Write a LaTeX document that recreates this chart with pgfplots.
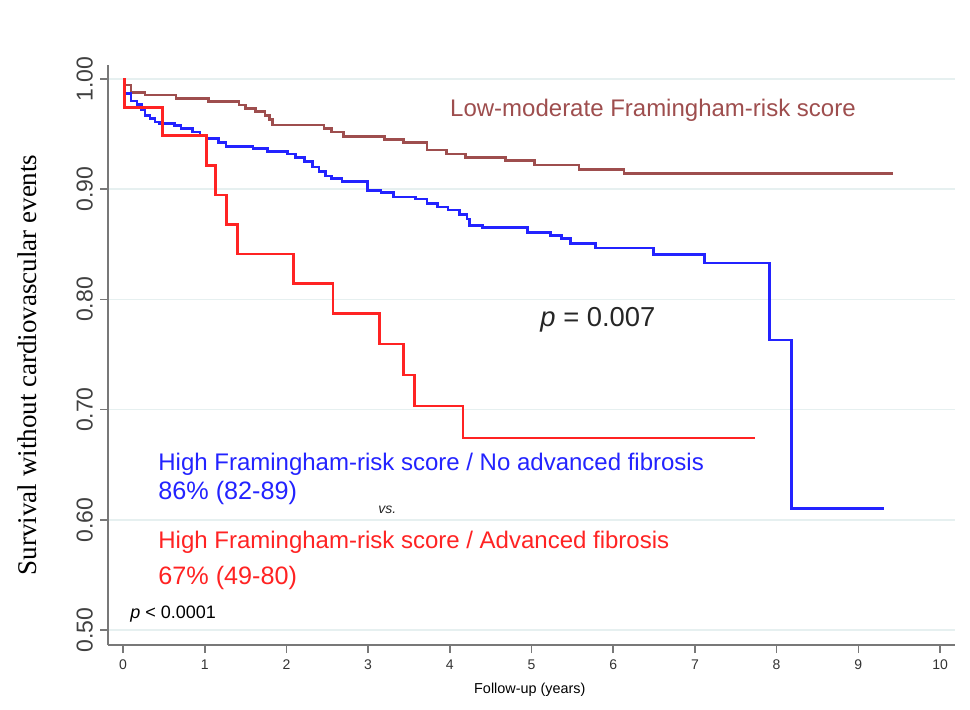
\documentclass[border=0pt]{standalone}
\usepackage{fontspec}
\setmainfont{Liberation Sans}
\newfontfamily\serifont{Liberation Serif}
\usepackage{pgfplots}
\pgfplotsset{compat=1.18}
\definecolor{lowc}{RGB}{158,78,78}
\definecolor{bluec}{RGB}{35,35,255}
\definecolor{redc}{RGB}{255,35,35}
\definecolor{gridc}{RGB}{230,240,240}
\definecolor{axc}{RGB}{120,120,120}
\begin{document}
\begin{tikzpicture}
\useasboundingbox (-54pt,-32pt) rectangle (431pt,322.5pt);
\begin{axis}[
  scale only axis, width=423.5pt, height=290pt,
  xmin=-0.1836, xmax=10.183, ymin=0.4864, ymax=1.0127,
  axis x line=bottom, axis y line=left,
  axis line style={draw=axc, line width=0.9pt, -},
  tick style={draw=axc, line width=0.8pt},
  tick align=outside, major tick length=4pt,
  xtick={0,1,...,10}, ytick={0.5,0.6,0.7,0.8,0.9,1.0},
  minor tick num=0,
  ymajorgrids, grid style={draw=gridc, line width=0.8pt},
  /pgf/number format/assume math mode=true,
  yticklabel style={/pgf/number format/.cd, fixed, fixed zerofill, precision=2, /tikz/.cd,
     rotate=90, anchor=south, font=\fontsize{11.5}{12}\selectfont, text=black!75},
  xticklabel style={font=\fontsize{7}{8}\selectfont, text=black!80},
  xlabel={Follow-up (years)},
  ylabel={Survival without cardiovascular events},
  every axis x label/.style={at={(rel axis cs:0.498,-0.0776)}, anchor=center, font=\fontsize{7.2}{8}\selectfont},
  every axis y label/.style={at={(rel axis cs:-0.095,0.483)}, rotate=90, anchor=center, font=\serifont\fontsize{13.5}{15}\selectfont},
  clip=false,
]
% Low-moderate Framingham-risk score
\addplot[const plot, color=lowc, line width=1.3pt] coordinates {
(0,1.0) (0.02,0.9946) (0.10,0.988) (0.27,0.9855) (0.65,0.9825) (1.05,0.9794)
(1.42,0.9764) (1.50,0.9734) (1.62,0.9703) (1.74,0.967) (1.79,0.963) (1.83,0.9583)
(2.46,0.955) (2.55,0.952) (2.70,0.948) (3.20,0.9453) (3.43,0.9422) (3.72,0.9356)
(3.96,0.932) (4.19,0.929) (4.68,0.926) (5.04,0.922) (5.58,0.9177) (6.13,0.9144)
(9.42,0.9144)};
% High risk / no advanced fibrosis
\addplot[const plot, color=bluec, line width=1.3pt] coordinates {
(0,1.0) (0.02,0.987) (0.10,0.980) (0.17,0.977) (0.23,0.972) (0.27,0.967)
(0.33,0.964) (0.39,0.961) (0.45,0.9595) (0.63,0.958) (0.71,0.955) (0.85,0.952)
(0.94,0.949) (1.02,0.946) (1.17,0.9425) (1.26,0.939) (1.59,0.937) (1.77,0.934)
(2.01,0.932) (2.11,0.929) (2.22,0.925) (2.32,0.920) (2.40,0.916) (2.48,0.912)
(2.55,0.9095) (2.68,0.907) (2.99,0.899) (3.16,0.897) (3.31,0.893) (3.58,0.891)
(3.72,0.887) (3.85,0.884) (3.98,0.881) (4.12,0.877) (4.21,0.873) (4.24,0.867)
(4.40,0.865) (4.95,0.8605) (5.23,0.858) (5.37,0.855) (5.48,0.851) (5.78,0.8465)
(6.49,0.841) (7.12,0.833) (7.91,0.7632) (8.18,0.610) (9.31,0.610)};
% High risk / advanced fibrosis
\addplot[const plot, color=redc, line width=1.3pt] coordinates {
(0,1.0) (0.02,0.974) (0.48,0.9485) (1.02,0.9213) (1.135,0.8947) (1.27,0.8681)
(1.40,0.8412) (2.09,0.8146) (2.57,0.7874) (3.14,0.7595) (3.43,0.7314)
(3.565,0.7033) (4.16,0.6742) (7.74,0.6742)};
\node[anchor=base west, inner sep=0pt, text=lowc, font=\fontsize{12}{14}\selectfont] at (axis cs:4.0,0.9664) {Low-moderate Framingham-risk score};
\node[anchor=base west, inner sep=0pt, text=black!85, font=\fontsize{13.7}{15}\selectfont] at (axis cs:5.104,0.775) {\textit{p} = 0.007};
\node[anchor=base west, inner sep=0pt, text=bluec, font=\fontsize{12}{14}\selectfont] at (axis cs:0.428,0.6452) {High Framingham-risk score / No advanced fibrosis};
\node[anchor=base west, inner sep=0pt, text=bluec, font=\fontsize{12.6}{14}\selectfont] at (axis cs:0.428,0.618) {86\% (82-89)};
\node[anchor=base west, inner sep=0pt, text=black!85, font=\itshape\fontsize{7}{8}\selectfont] at (axis cs:3.121,0.6053) {vs.};
\node[anchor=base west, inner sep=0pt, text=redc, font=\fontsize{12}{14}\selectfont] at (axis cs:0.428,0.5744) {High Framingham-risk score / Advanced fibrosis};
\node[anchor=base west, inner sep=0pt, text=redc, font=\fontsize{12.6}{14}\selectfont] at (axis cs:0.428,0.5417) {67\% (49-80)};
\node[anchor=base west, inner sep=0pt, text=black, font=\fontsize{9}{10}\selectfont] at (axis cs:0.086,0.51) {\textit{p} < 0.0001};
\end{axis}
\end{tikzpicture}
\end{document}
